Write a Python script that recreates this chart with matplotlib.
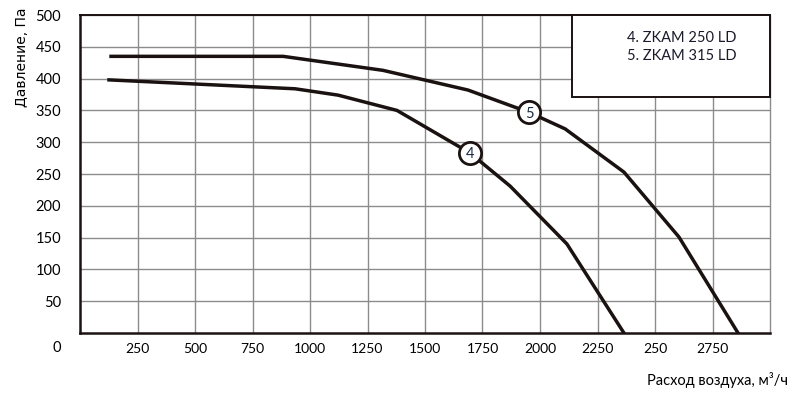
import matplotlib.pyplot as plt
from matplotlib.patches import Rectangle

# curve 4 - ZKAM 250 LD
flow4 = [126, 935, 1122, 1378, 1696, 1870, 2117, 2365]
pres4 = [398, 384, 374, 350, 283, 231, 140, 0]
# curve 5 - ZKAM 315 LD
flow5 = [135, 883, 1317, 1687, 1952, 2109, 2365, 2604, 2861]
pres5 = [435, 435, 413, 382, 347, 321, 253, 151, 0]

mark_nums = ["4", "5"]
mark_x = [1696, 1952]
mark_y = [283, 347]

x_ticks = [250, 500, 750, 1000, 1250, 1500, 1750, 2000, 2250, 2500, 2750]
x_labels = ["250", "500", "750", "1000", "1250", "1500", "1750", "2000", "2250", "250", "2750"]
y_ticks = [50, 100, 150, 200, 250, 300, 350, 400, 450, 500]
legend_lines = ["4. ZKAM 250 LD", "5. ZKAM 315 LD"]

fnt = ["Lato", "DejaVu Sans"]
ink = "#1a1210"
grid_c = "#8c8c8c"

fig = plt.figure(figsize=(8, 3.99), dpi=100)
ax = fig.add_axes([0.1, 0.1654, 0.8625, 0.797])
ax.set_xlim(0, 3000)
ax.set_ylim(0, 500)

ax.set_xticks(x_ticks)
ax.set_xticklabels(x_labels, family=fnt, fontsize=10)
ax.set_yticks(y_ticks)
ax.set_yticklabels([str(v) for v in y_ticks], family=fnt, fontsize=10.5)
ax.grid(True, color=grid_c, lw=1.0)
ax.set_axisbelow(True)
ax.tick_params(length=0)
ax.tick_params(axis="x", pad=7.5)
ax.tick_params(axis="y", pad=13.5)

for s in ["left", "bottom", "top"]:
    ax.spines[s].set_color(ink)
    ax.spines[s].set_linewidth(1.8)
ax.spines["top"].set_linewidth(1.4)
ax.spines["right"].set_color(grid_c)
ax.spines["right"].set_linewidth(1.0)

ax.plot(flow4, pres4, color=ink, lw=2.5, solid_joinstyle="miter", zorder=3)
ax.plot(flow5, pres5, color=ink, lw=2.5, solid_joinstyle="miter", zorder=3)

for n, x, y in zip(mark_nums, mark_x, mark_y):
    ax.plot(x, y, "o", ms=16, mfc="white", mec=ink, mew=2.0, zorder=4)
    ax.text(x, y - 2, n, ha="center", va="center", fontsize=10.5, family=fnt,
            color="#1a2a40", zorder=5)

# legend box in upper right
ax.add_patch(Rectangle((0.713, 0.742), 0.287, 0.258, transform=ax.transAxes,
                       facecolor="white", edgecolor=ink, lw=1.4, zorder=6, clip_on=False))
ax.text(0.793, 0.927, legend_lines[0], transform=ax.transAxes, ha="left", va="center",
        fontsize=10.5, family=fnt, color="#1a1a2a", zorder=7)
ax.text(0.793, 0.870, legend_lines[1], transform=ax.transAxes, ha="left", va="center",
        fontsize=10.5, family=fnt, color="#1a1a2a", zorder=7)

ax.text(-0.033, -0.047, "0", transform=ax.transAxes, ha="center", va="center",
        fontsize=10.5, family=fnt)
fig.text(0.028, 0.857, "Давление, Па", rotation=90, ha="center", va="center",
         fontsize=10, family=["DejaVu Sans"])
fig.text(0.985, 0.048, "Расход воздуха, м³/ч", ha="right", va="center",
         fontsize=10.5, family=fnt)

fig.savefig("out.png", dpi=100)
